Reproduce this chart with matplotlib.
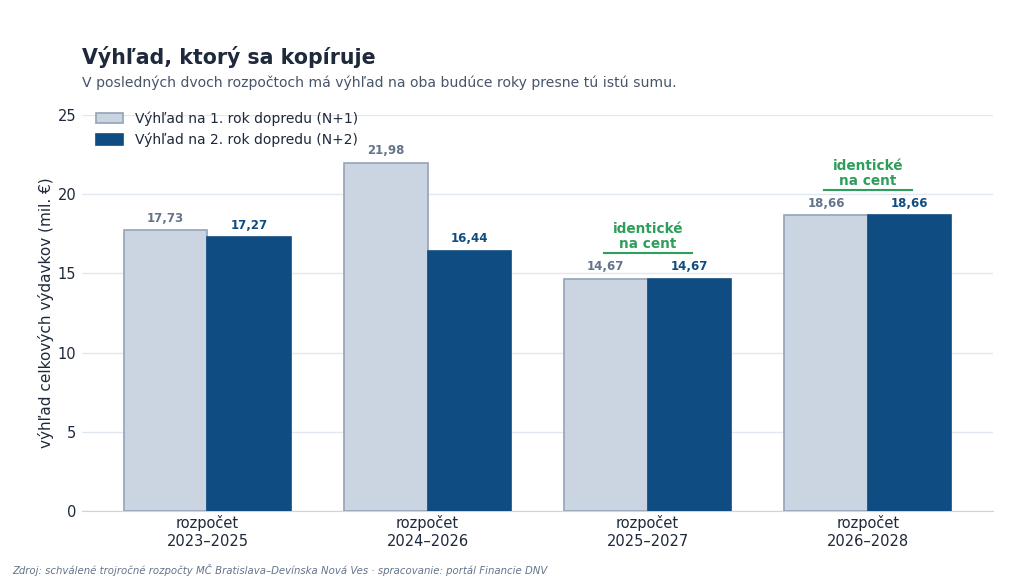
import matplotlib.pyplot as plt
import numpy as np

categories = ['rozpočet\n2023–2025', 'rozpočet\n2024–2026', 'rozpočet\n2025–2027', 'rozpočet\n2026–2028']
n1 = [17.73, 21.98, 14.67, 18.66]
n2 = [17.27, 16.44, 14.67, 18.66]

light = '#cbd5e1'
light_edge = '#94a3b8'
dark = '#0f4c81'
green = '#2e9e5b'

fig = plt.figure(figsize=(10.24, 5.81), dpi=100)
ax = fig.add_axes([0.080, 0.1205, 0.890, 0.6815])

x = np.arange(len(categories))
w = 0.38
ax.bar(x - w / 2, n1, w, color=light, edgecolor=light_edge, linewidth=1.2,
       label='Výhľad na 1. rok dopredu (N+1)', zorder=3)
ax.bar(x + w / 2, n2, w, color=dark, edgecolor=dark, linewidth=1.2,
       label='Výhľad na 2. rok dopredu (N+2)', zorder=3)

def fmt(v):
    return f'{v:.2f}'.replace('.', ',')

for i in range(len(categories)):
    ax.annotate(fmt(n1[i]), (x[i] - w / 2, n1[i]), xytext=(0, 4), textcoords='offset points',
                ha='center', va='bottom', fontsize=8.5, fontweight='bold', color='#64748b')
    ax.annotate(fmt(n2[i]), (x[i] + w / 2, n2[i]), xytext=(0, 4), textcoords='offset points',
                ha='center', va='bottom', fontsize=8.5, fontweight='bold', color=dark)
    if n1[i] == n2[i]:
        y = n1[i] + 1.6
        ax.plot([x[i] - 0.2, x[i] + 0.2], [y, y], color=green, lw=1.5, zorder=4)
        ax.text(x[i], y + 0.12, 'identické\nna cent', ha='center', va='bottom',
                fontsize=9.8, fontweight='bold', color=green, linespacing=1.15)

ax.set_xlim(-0.57, 3.57)
ax.set_ylim(0, 25)
ax.set_yticks([0, 5, 10, 15, 20, 25])
ax.set_xticks(x)
ax.set_xticklabels(categories, fontsize=10.5, color='#1e293b')
ax.tick_params(axis='y', labelsize=10.5, colors='#1e293b', length=0, pad=4)
ax.tick_params(axis='x', length=0, pad=3)
ax.grid(axis='y', color='#e2e8f0', lw=1, zorder=0)
for s in ['top', 'right', 'left']:
    ax.spines[s].set_visible(False)
ax.spines['bottom'].set_color('#cbd5e1')
ax.set_ylabel('výhľad celkových výdavkov (mil. €)', fontsize=11, color='#1e293b', labelpad=2.5)

ax.legend(loc='upper left', bbox_to_anchor=(0.006, 1.03), frameon=False, fontsize=10,
          handlelength=2.0, handleheight=0.8, labelcolor='#1e293b', borderaxespad=0.2)

fig.text(0.080, 0.902, 'Výhľad, ktorý sa kopíruje', fontsize=14.8, fontweight='bold',
         color='#1e293b', va='center')
fig.text(0.080, 0.858, 'V posledných dvoch rozpočtoch má výhľad na oba budúce roky presne tú istú sumu.',
         fontsize=10.1, color='#475569', va='center')
fig.text(0.012, 0.019, 'Zdroj: schválené trojročné rozpočty MČ Bratislava–Devínska Nová Ves · spracovanie: portál Financie DNV',
         fontsize=7.3, style='italic', color='#64748b', va='center')

fig.savefig('out.png', dpi=100)
